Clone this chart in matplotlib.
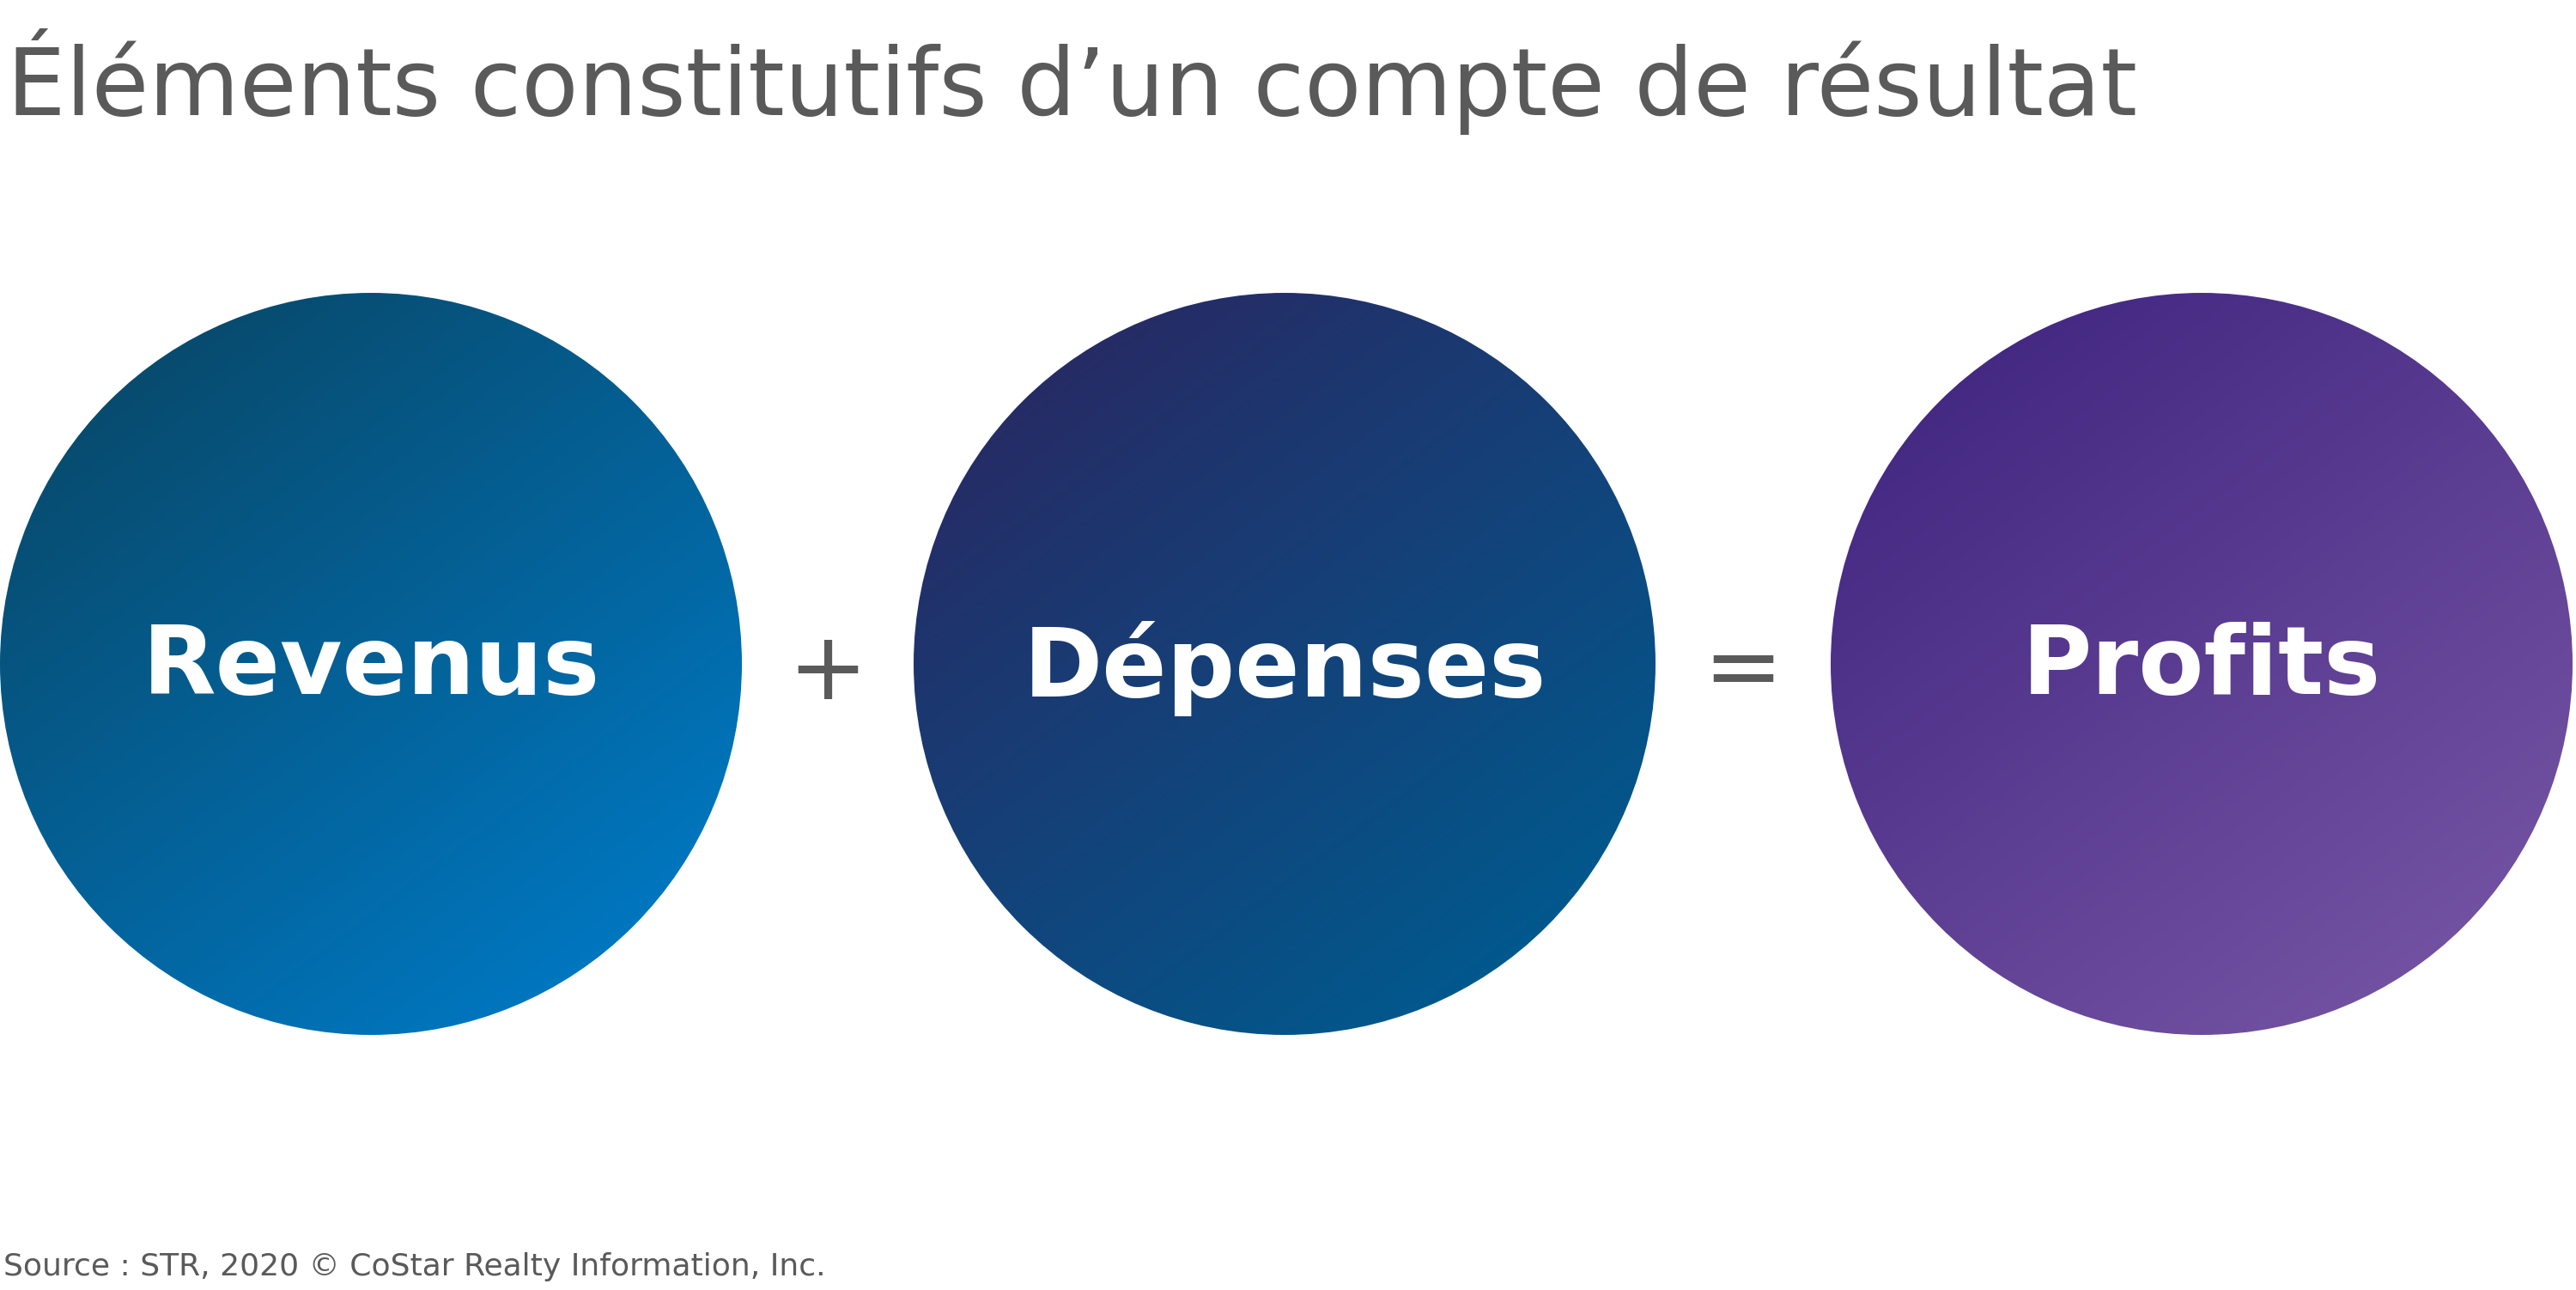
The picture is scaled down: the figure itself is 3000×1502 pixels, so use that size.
import numpy as np
import matplotlib.pyplot as plt
from matplotlib.patches import Circle
from matplotlib.colors import LinearSegmentedColormap

plt.rcParams['font.family'] = ['DejaVu Sans']

title = "Éléments constitutifs d\u2019un compte de résultat"
source = "Source : STR, 2020 © CoStar Realty Information, Inc."
labels = ['Revenus', 'Dépenses', 'Profits']
operators = ['+', '=']
# gradient (top-left colour, bottom-right colour) per circle
grad_colors = [('#084a6c', '#0078c2'), ('#272a64', '#005a8e'), ('#432882', '#7352a2')]

W, H = 3000, 1502
fig = plt.figure(figsize=(W / 100, H / 100), dpi=100)
ax = fig.add_axes([0, 0, 1, 1])
ax.set_xlim(0, W)
ax.set_ylim(H, 0)
ax.axis('off')

centers_x = [432, 1496, 2564]
cy, r = 773, 432

yy, xx = np.mgrid[0:1:200j, 0:1:200j]
for cx, (c0, c1), lab in zip(centers_x, grad_colors, labels):
    cmap = LinearSegmentedColormap.from_list('g', [c0, c1])
    t = np.clip((xx * 0.6 + yy * 0.8) / 1.4 * 1.3 - 0.15, 0, 1)
    im = ax.imshow(t, cmap=cmap, vmin=0, vmax=1,
                   extent=[cx - r, cx + r, cy + r, cy - r], zorder=1)
    circ = Circle((cx, cy), r, transform=ax.transData, facecolor='none', edgecolor='none')
    ax.add_patch(circ)
    im.set_clip_path(circ)
    ax.text(cx, cy + 5, lab, color='white', fontsize=80, fontweight='bold',
            ha='center', va='center', zorder=3)

for ox, op in zip([(centers_x[0] + centers_x[1]) / 2, (centers_x[1] + centers_x[2]) / 2], operators):
    ax.text(ox, cy + 10, op, color='#5a5a5a', fontsize=80, ha='center', va='center')

ax.text(8, 95, title, color='#5a5a5a', fontsize=78, ha='left', va='center')
ax.text(4, 1475, source, color='#5a5a5a', fontsize=26, ha='left', va='center')

fig.savefig('out.png', dpi=100)
